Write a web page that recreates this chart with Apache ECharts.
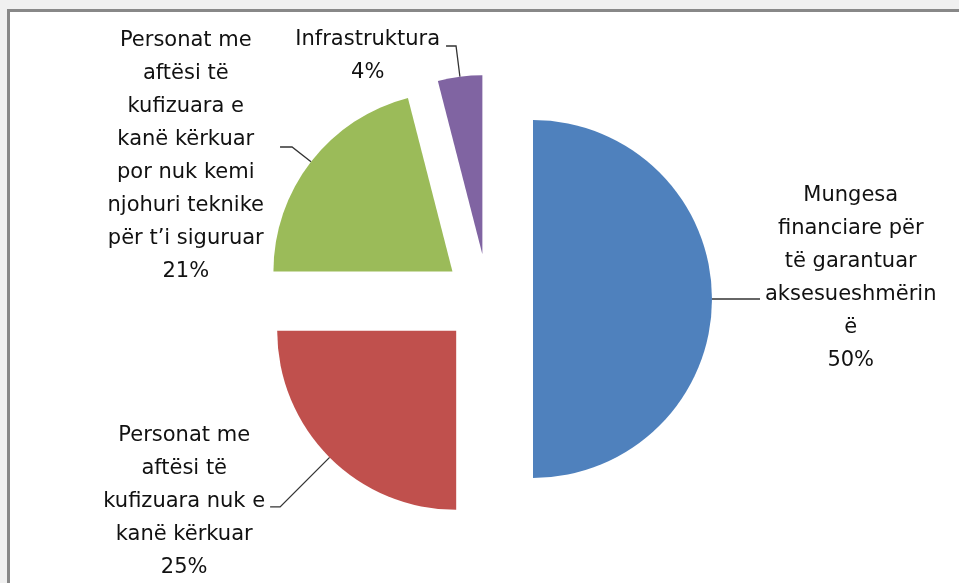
<!DOCTYPE html>
<html lang="sq">
<head>
    <meta charset="UTF-8">
    <script src="https://cdn.jsdelivr.net/npm/echarts@6/dist/echarts.min.js"></script>
    <title>Pie</title>
    <style>
        html, body { margin: 0; padding: 0; background: #f0f0f0; }
        #frame {
            position: absolute; left: 7px; top: 9px; width: 1000px; height: 700px;
            background: #ffffff; border-left: 3px solid #888888; border-top: 3px solid #888888;
        }
        #chart { position: absolute; left: 0; top: 0; width: 959px; height: 583px; }
    </style>
</head>
<body>
<div id="frame"></div>
<div id="chart"></div>

<script type="text/javascript">
    // te dhenat
    var categories = [
        'Mungesa financiare për të garantuar aksesueshmërinë',
        'Personat me aftësi të kufizuara nuk e kanë kërkuar',
        'Personat me aftësi të kufizuara e kanë kërkuar por nuk kemi njohuri teknike për t’i siguruar',
        'Infrastruktura'
    ]
    var labelTexts = [
        'Mungesa\nfinanciare për\ntë garantuar\naksesueshmërin\në',
        'Personat me\naftësi të\nkufizuara nuk e\nkanë kërkuar',
        'Personat me\naftësi të\nkufizuara e\nkanë kërkuar\npor nuk kemi\nnjohuri teknike\npër t’i siguruar',
        'Infrastruktura'
    ]
    var values = [50, 25, 21, 4]
    var colors = ['#4f81bd', '#c0504d', '#9bbb59', '#8064a2']

    // pie geometry (exploded slices)
    var cx = 488, cy = 299, R = 179, explode = 45
    // leader lines and label offsets
    var lineLen = [30, 70, 24, 31]
    var lineLen2 = [18, 10, 12, 10]
    var labelGap = [5, 5, 16, 6]
    var labelDy = [-21, -5, 9, 10]

    var total = values.reduce(function (a, b) { return a + b; }, 0)

    // direction of the middle of slice idx (clockwise from 12 o'clock)
    function midDir(idx) {
        var before = 0
        for (var k = 0; k < idx; k++) before += values[k]
        var ang = 2 * Math.PI * (before + values[idx] / 2) / total
        return [Math.sin(ang), -Math.cos(ang)]
    }

    function leaderPoints(idx) {
        var d = midDir(idx)
        var sx = cx + explode * d[0], sy = cy + explode * d[1]
        var p0 = [sx + R * d[0], sy + R * d[1]]
        var p1 = [p0[0] + lineLen[idx] * d[0], p0[1] + lineLen[idx] * d[1]]
        var side = d[0] < 0 ? -1 : 1
        var p2 = [p1[0] + side * lineLen2[idx], p1[1]]
        return { pts: [p0, p1, p2], side: side }
    }

    var myChart = echarts.init(document.getElementById('chart'));

    // one series per slice so every slice can be pulled out along its own middle
    var series = []
    for (var s = 0; s < values.length; s++) {
        var d = midDir(s)
        var data = []
        for (var i = 0; i < values.length; i++) {
            var visible = (i === s)
            data.push({
                name: categories[i],
                value: values[i],
                itemStyle: { color: colors[i], opacity: visible ? 1 : 0 },
                label: { show: visible, formatter: labelTexts[i] + '\n{d}%' },
                labelLine: { show: visible }
            })
        }
        series.push({
            type: 'pie',
            name: categories[s],
            center: [cx + explode * d[0], cy + explode * d[1]],
            radius: R,
            startAngle: 90,
            clockwise: true,
            silent: true,
            avoidLabelOverlap: false,
            label: {
                position: 'outer',
                alignTo: 'none',
                fontFamily: 'DejaVu Sans',
                fontSize: 21,
                lineHeight: 33,
                color: '#111111',
                align: 'center'
            },
            labelLine: {
                lineStyle: { color: '#333333', width: 1.3 }
            },
            labelLayout: function (params) {
                var idx = params.dataIndex;
                var lp = leaderPoints(idx);
                var end = lp.pts[2];
                var w = params.labelRect.width;
                return {
                    x: end[0] + lp.side * (labelGap[idx] + w / 2),
                    y: end[1] + labelDy[idx],
                    align: 'center',
                    verticalAlign: 'middle',
                    labelLinePoints: lp.pts
                };
            },
            data: data
        })
    }

    myChart.setOption({ animation: false, series: series });
</script>
</body>
</html>
